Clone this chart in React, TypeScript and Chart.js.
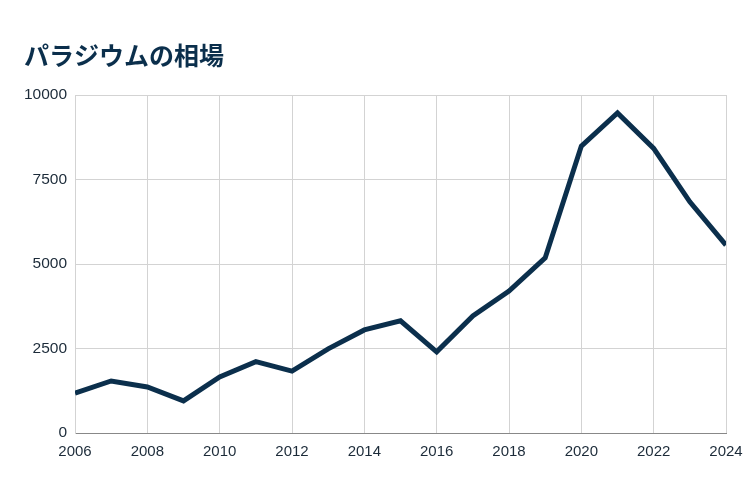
import React, { useEffect, useRef } from "react";
import { Chart, registerables } from "chart.js";

Chart.register(...registerables);

const years = [2006, 2007, 2008, 2009, 2010, 2011, 2012, 2013, 2014, 2015, 2016, 2017, 2018, 2019, 2020, 2021, 2022, 2023, 2024];
const prices = [1180, 1540, 1360, 950, 1660, 2110, 1830, 2490, 3050, 3320, 2400, 3460, 4200, 5180, 8490, 9470, 8420, 6840, 5560];
const title = "パラジウムの相場";
const yTicks = [0, 2500, 5000, 7500, 10000];

const NAVY = "#0b2f4c";

export default function App() {
  const ref = useRef<HTMLCanvasElement>(null);
  useEffect(() => {
    document.body.style.margin = "0";
    const ctx = ref.current!;
    const chart = new Chart(ctx, {
      type: "line",
      data: {
        datasets: [
          {
            data: years.map((y, i) => ({ x: y, y: prices[i] })),
            borderColor: NAVY,
            backgroundColor: NAVY,
            borderWidth: 5,
            pointRadius: 0,
            tension: 0,
            borderJoinStyle: "miter",
          },
        ],
      },
      options: {
        animation: false,
        responsive: false,
        maintainAspectRatio: false,
        layout: { padding: { left: 24, right: 24, top: 0, bottom: 29 } },
        plugins: {
          legend: { display: false },
          tooltip: { enabled: false },
          title: {
            display: true,
            text: title,
            align: "start",
            color: NAVY,
            font: { family: "'Noto Sans CJK JP', 'Noto Sans', sans-serif", size: 25, weight: "bold" },
            padding: { top: 40, bottom: 25 },
          },
        },
        scales: {
          x: {
            type: "linear",
            min: years[0],
            max: years[years.length - 1],
            afterFit: (axis: any) => {
              axis.paddingRight = 0;
              axis.paddingLeft = 0;
            },
            ticks: {
              stepSize: 2,
              color: "#1c2b39",
              font: { family: "'Liberation Sans', Arial, sans-serif", size: 15 },
              padding: 10,
              maxRotation: 0,
              callback: (v: any) => String(v),
            },
            grid: { color: "#d3d3d3", lineWidth: 1, drawTicks: false },
            border: { color: "#888888", width: 1 },
          },
          y: {
            min: 0,
            max: 10000,
            afterBuildTicks: (axis: any) => {
              axis.ticks = yTicks.map((v) => ({ value: v }));
            },
            afterFit: (axis: any) => {
              axis.width = 51;
            },
            ticks: {
              color: "#1c2b39",
              font: { family: "'Liberation Sans', Arial, sans-serif", size: 15.5 },
              padding: 8,
              callback: (v: any) => String(v),
            },
            grid: { color: "#d3d3d3", lineWidth: 1, drawTicks: false },
            border: { color: "#d3d3d3", width: 1 },
          },
        },
      },
    });
    return () => chart.destroy();
  }, []);
  return (
    <div style={{ width: 750, height: 500, background: "#fff" }}>
      <canvas ref={ref} width={750} height={500} style={{ display: "block" }} />
    </div>
  );
}
